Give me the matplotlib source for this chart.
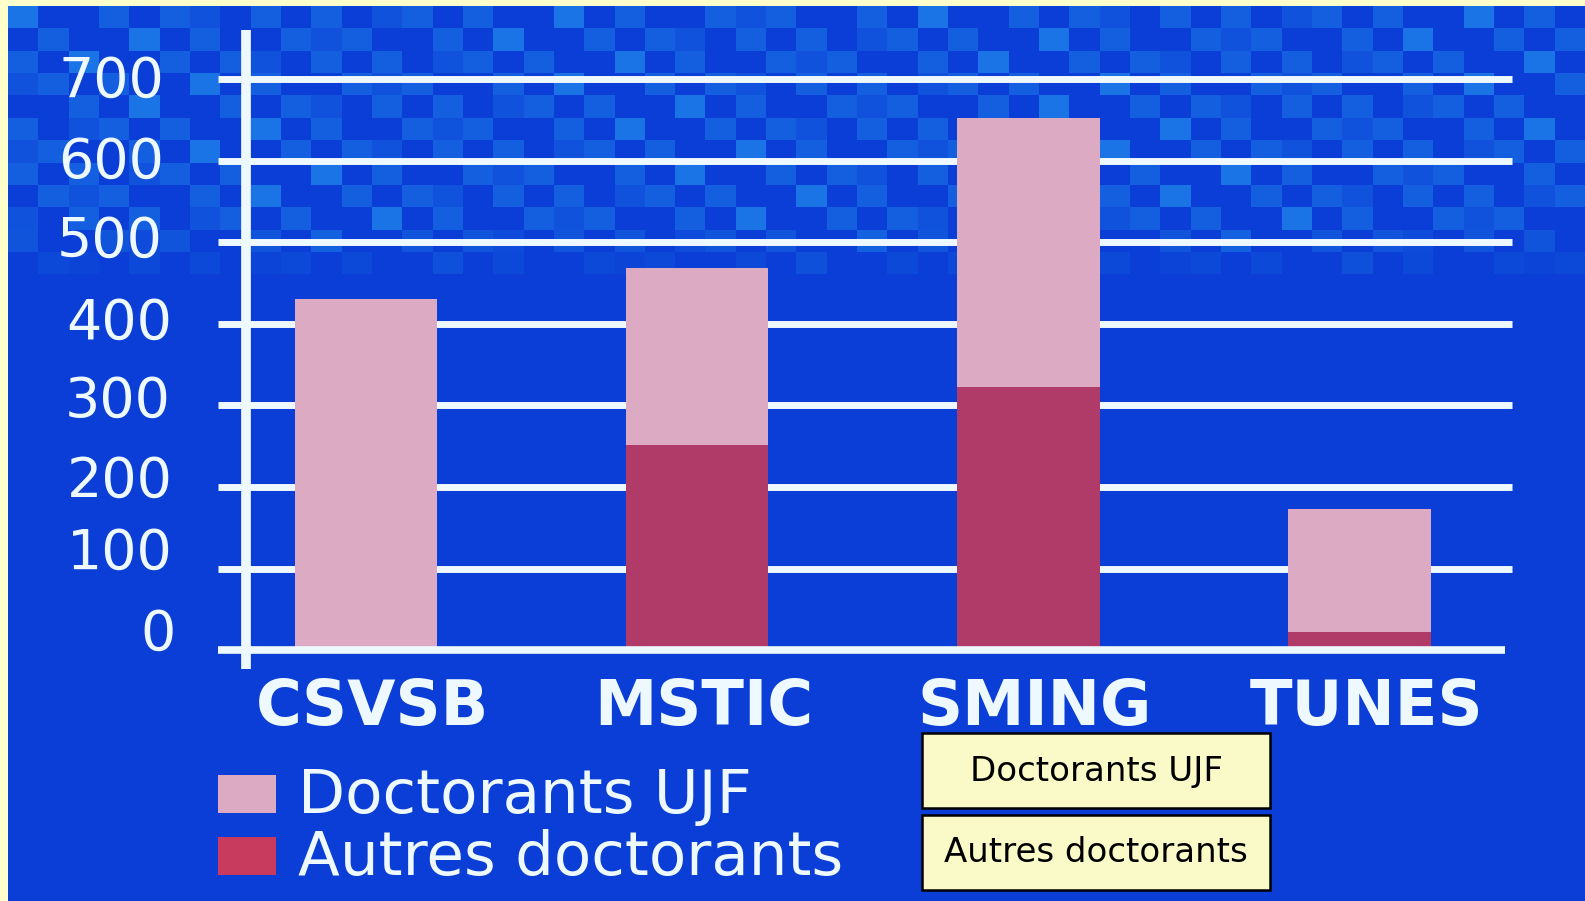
import numpy as np
import matplotlib
matplotlib.use("Agg")
import matplotlib.pyplot as plt
from matplotlib.patches import Rectangle
from matplotlib.colors import LinearSegmentedColormap

# data
categories = ["CSVSB", "MSTIC", "SMING", "TUNES"]
autres = [0, 252, 322, 22]
ujf = [430, 216, 330, 151]
yticks = [0, 100, 200, 300, 400, 500, 600, 700]
legend_labels = ["Doctorants UJF", "Autres doctorants"]

# colours
bg_blue = "#0A3ED6"
pink = "#DCAAC2"
dark_red = "#B03A68"
white = "#EEF8FF"

W, H = 1585, 901
fig = plt.figure(figsize=(W / 100, H / 100), dpi=100)
fig.patch.set_facecolor("#FFFFCC")

# background with the tiled pattern at the top
bg = fig.add_axes([8 / W, 0, 1 - 8 / W, 1 - 6 / H])
bg.set_axis_off()
ii, jj = np.indices((40, 52))
tiles = ((ii * 3 + jj * 2) % 5 < 2).astype(float) * 0.8 + ((ii * 2 + jj) % 6 == 0) * 0.5
fade = np.clip((ii - 9) / 3.0, 0, 1)
tiles = tiles * (1 - fade)
cmap = LinearSegmentedColormap.from_list("bgc", [bg_blue, "#1A74E6"])
bg.imshow(tiles, cmap=cmap, aspect="auto", interpolation="nearest",
          extent=[0, 1, 0, 1], vmin=0, vmax=1.3)
bg.set_xlim(0, 1)
bg.set_ylim(0, 1)

# main chart axes
ax = fig.add_axes([218 / W, (H - 669) / H, (1522 - 218) / W, (669 - 30) / H])
ax.patch.set_alpha(0)
ax.set_xlim(-0.447, 3.49)
ax.set_ylim(-23, 760)
ax.set_axis_off()

x = np.arange(len(categories))

ax.hlines(yticks[1:], -0.447, 3.46, colors=white, linewidth=5, zorder=1)
ax.bar(x, autres, width=0.43, color=dark_red, zorder=2)
ax.bar(x, ujf, bottom=autres, width=0.43, color=pink, zorder=2)
ax.hlines(0, -0.447, 3.44, colors=white, linewidth=5.5, zorder=3)
ax.axvline(-0.3625, color=white, linewidth=7, zorder=3)

# tick labels drift upward towards the bottom in the original
label_shift = [19, 18, 6, 5, 0, 1, -3, -3]
label_right = [-0.575, -0.585, -0.585, -0.59, -0.585, -0.615, -0.61, -0.61]
for v, dy, xr in zip(yticks, label_shift, label_right):
    ax.text(xr, v + dy, str(v), ha="right", va="center", color=white,
            fontsize=40, family="DejaVu Sans", clip_on=False)

for xi, name in zip(x, categories):
    ax.text(xi + 0.02, -71, name, ha="center", va="center", color=white,
            fontsize=45, fontweight="bold", family="DejaVu Sans", clip_on=False)

# legend
for k, (lab, col) in enumerate(zip(legend_labels, [pink, "#C83A5E"])):
    y0 = 775 + k * 62
    fig.add_artist(Rectangle((218 / W, (H - y0 - 38) / H), 58 / W, 38 / H,
                             transform=fig.transFigure, facecolor=col, edgecolor="none"))
    fig.text(298 / W, (H - y0 - 21) / H, lab, ha="left", va="center",
             color=white, fontsize=44, family="DejaVu Sans")

# yellow label boxes
for k, lab in enumerate(legend_labels):
    top = 733 + k * 82
    fig.add_artist(Rectangle((922 / W, (H - top - 75) / H), 348 / W, 75 / H,
                             transform=fig.transFigure, facecolor="#FAFAC8",
                             edgecolor="black", linewidth=1.8))
    fig.text(1096 / W, (H - top - 38) / H, lab, ha="center", va="center",
             color="black", fontsize=24.5, family="DejaVu Sans")

fig.savefig("out.png", dpi=100, facecolor=fig.get_facecolor())
